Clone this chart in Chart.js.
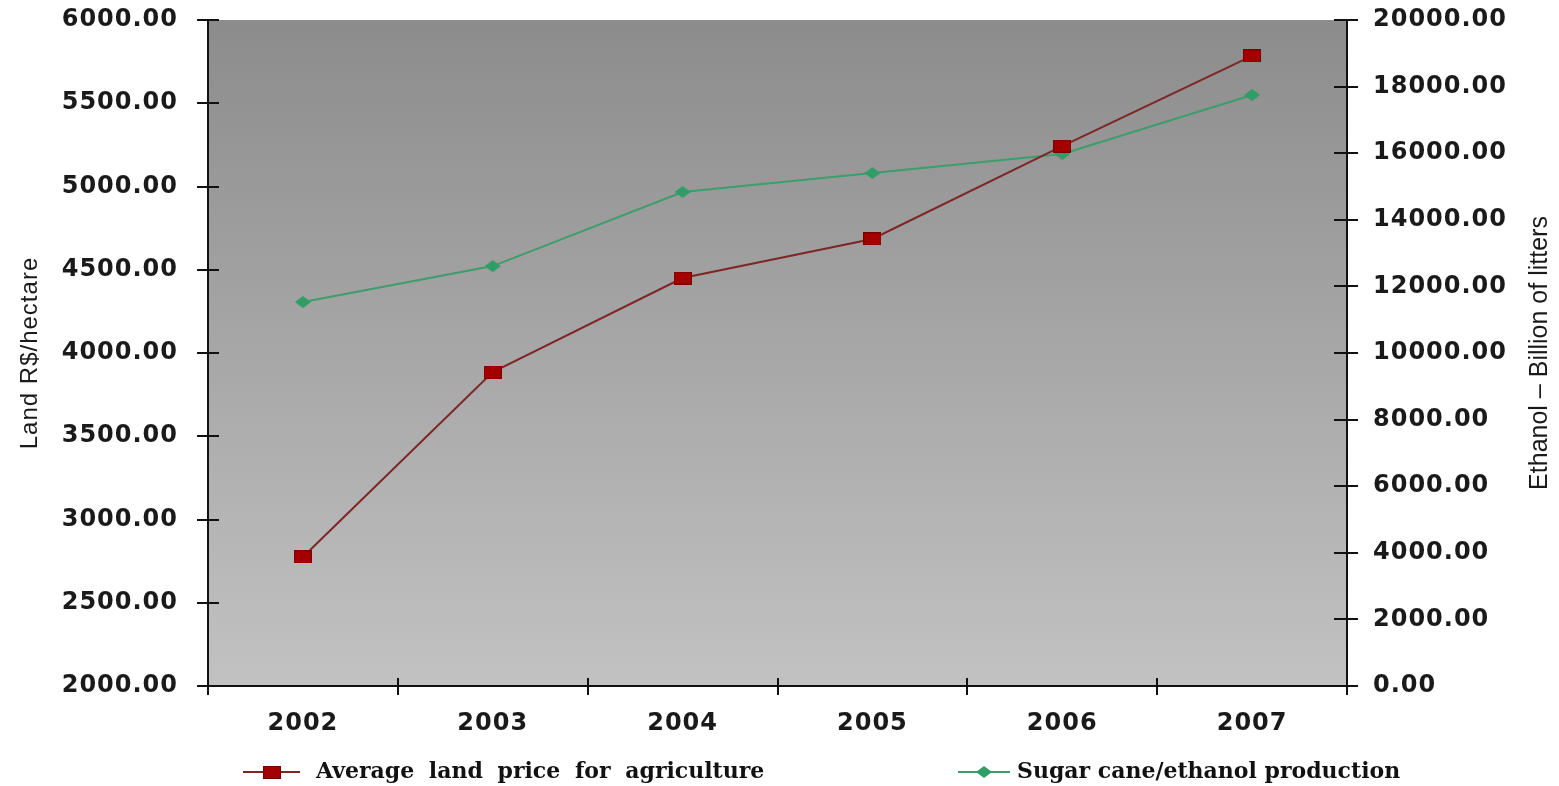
<!DOCTYPE html>
<html>
<head>
<meta charset="utf-8">
<script src="https://cdn.jsdelivr.net/npm/chart.js@4"></script>
<style>
  html, body { margin: 0; padding: 0; background: #ffffff; }
  #wrap { width: 1559px; height: 786px; position: relative; }
</style>
</head>
<body>
<div id="wrap"><canvas id="c"></canvas></div>
<script>
// ---- data ----
const years = ['2002', '2003', '2004', '2005', '2006', '2007'];
const landPrice = [2775, 3885, 4450, 4685, 5243, 5784];
const ethanolProduction = [11530, 12610, 14835, 15405, 15975, 17748];
const seriesNames = ['Average land price for agriculture', 'Sugar cane/ethanol production'];
const leftTitle = 'Land R$/hectare';
const rightTitle = 'Ethanol \u2013 Billion of litters';

// ---- marker images ----
function makeRect() {
  const c = document.createElement('canvas');
  c.width = 18; c.height = 13;
  const g = c.getContext('2d');
  g.fillStyle = '#a50000';
  g.fillRect(0, 0, 18, 13);
  g.strokeStyle = '#7a0000';
  g.lineWidth = 1;
  g.strokeRect(0.5, 0.5, 17, 12);
  return c;
}
function makeDiamond() {
  const c = document.createElement('canvas');
  c.width = 16; c.height = 12;
  const g = c.getContext('2d');
  g.fillStyle = '#2f9e66';
  g.beginPath();
  g.moveTo(8, 0); g.lineTo(16, 6); g.lineTo(8, 12); g.lineTo(0, 6);
  g.closePath();
  g.fill();
  return c;
}
const rectImg = makeRect();
const diamondImg = makeDiamond();

const tickFont = { family: '"DejaVu Sans", sans-serif', size: 24, weight: 'bold' };
const lineColors = ['#7e2626', '#3d9d6c'];

function noPad(s) { s.paddingTop = 0; s.paddingBottom = 0; }

const decoPlugin = {
  id: 'deco',
  beforeDraw(chart) {
    const { ctx, chartArea: a } = chart;
    const grad = ctx.createLinearGradient(0, a.top, 0, a.bottom);
    grad.addColorStop(0, '#8c8c8c');
    grad.addColorStop(1, '#c2c2c2');
    ctx.save();
    ctx.fillStyle = grad;
    ctx.fillRect(a.left, a.top, a.right - a.left, a.bottom - a.top);
    ctx.restore();
    ctx.letterSpacing = '1px';
  },
  afterDraw(chart) {
    const { ctx, chartArea: a, scales } = chart;
    ctx.save();
    ctx.letterSpacing = '0px';
    ctx.strokeStyle = '#111';
    ctx.lineWidth = 2;
    // inner halves of crossing ticks
    const x = scales.x;
    const step = x.getPixelForTick(1) - x.getPixelForTick(0);
    for (let i = 0; i <= years.length; i++) {
      const px = Math.round(x.getPixelForTick(0) - step / 2 + i * step);
      ctx.beginPath(); ctx.moveTo(px, a.bottom); ctx.lineTo(px, a.bottom - 8); ctx.stroke();
    }
    scales.y.ticks.forEach((t, i) => {
      const py = Math.round(scales.y.getPixelForTick(i));
      ctx.beginPath(); ctx.moveTo(a.left, py); ctx.lineTo(a.left + 11, py); ctx.stroke();
    });
    scales.y2.ticks.forEach((t, i) => {
      const py = Math.round(scales.y2.getPixelForTick(i));
      ctx.beginPath(); ctx.moveTo(a.right, py); ctx.lineTo(a.right - 13, py); ctx.stroke();
    });
    // right axis title (reads bottom to top)
    ctx.fillStyle = '#1a1a1a';
    ctx.font = '25px "Liberation Sans", Arial, sans-serif';
    ctx.textAlign = 'center';
    ctx.textBaseline = 'middle';
    ctx.translate(1540, (a.top + a.bottom) / 2);
    ctx.rotate(-Math.PI / 2);
    ctx.fillText(rightTitle, 0, 0);
    ctx.restore();

    // legend
    ctx.save();
    ctx.letterSpacing = '0px';
    const ly = 772;
    const items = [
      { x0: 243, x1: 300, tx: 316, img: rectImg, color: lineColors[0], ws: '7px' },
      { x0: 958, x1: 1010, tx: 1017, img: diamondImg, color: lineColors[1], ws: '0px' }
    ];
    items.forEach((it, i) => {
      ctx.strokeStyle = it.color;
      ctx.lineWidth = 2;
      ctx.beginPath(); ctx.moveTo(it.x0, ly); ctx.lineTo(it.x1, ly); ctx.stroke();
      const cx = (it.x0 + it.x1) / 2;
      ctx.drawImage(it.img, Math.round(cx - it.img.width / 2), Math.round(ly - it.img.height / 2));
      ctx.fillStyle = '#111';
      ctx.font = 'bold 22px "DejaVu Serif", serif';
      ctx.wordSpacing = it.ws;
      ctx.textAlign = 'left';
      ctx.textBaseline = 'middle';
      ctx.fillText(seriesNames[i], it.tx, ly);
    });
    ctx.restore();
  }
};

new Chart(document.getElementById('c'), {
  type: 'line',
  data: {
    labels: years,
    datasets: [
      {
        label: seriesNames[0],
        data: landPrice,
        yAxisID: 'y',
        borderColor: lineColors[0],
        borderWidth: 2,
        pointStyle: rectImg,
        tension: 0
      },
      {
        label: seriesNames[1],
        data: ethanolProduction,
        yAxisID: 'y2',
        borderColor: lineColors[1],
        borderWidth: 2,
        pointStyle: diamondImg,
        tension: 0
      }
    ]
  },
  options: {
    responsive: true,
    maintainAspectRatio: false,
    animation: false,
    layout: { padding: { top: 20, left: 0, right: 0, bottom: 0 } },
    plugins: { legend: { display: false }, tooltip: { enabled: false } },
    scales: {
      x: {
        type: 'category',
        offset: true,
        grid: { offset: true, drawOnChartArea: false, color: '#111', lineWidth: 2, tickLength: 9 },
        border: { color: '#111', width: 2 },
        ticks: { font: tickFont, color: '#1a1a1a', padding: 14, maxRotation: 0 },
        afterFit(s) { s.height = 100; }
      },
      y: {
        position: 'left',
        min: 2000, max: 6000,
        ticks: { stepSize: 500, font: tickFont, color: '#1a1a1a', padding: 19, callback: v => v.toFixed(2) },
        grid: { drawOnChartArea: false, color: '#111', lineWidth: 2, tickLength: 11 },
        border: { color: '#111', width: 2 },
        title: { display: true, text: leftTitle, color: '#1a1a1a', font: { family: '"Liberation Sans", Arial, sans-serif', size: 24 }, padding: { top: 16, bottom: 0 } },
        afterFit(s) { s.width = 208; noPad(s); }
      },
      y2: {
        position: 'right',
        min: 0, max: 20000,
        ticks: { stepSize: 2000, font: tickFont, color: '#1a1a1a', padding: 15, callback: v => v.toFixed(2) },
        grid: { drawOnChartArea: false, color: '#111', lineWidth: 2, tickLength: 11 },
        border: { color: '#111', width: 2 },
        afterFit(s) { s.width = 212; noPad(s); }
      }
    }
  },
  plugins: [decoPlugin]
});
</script>
</body>
</html>
